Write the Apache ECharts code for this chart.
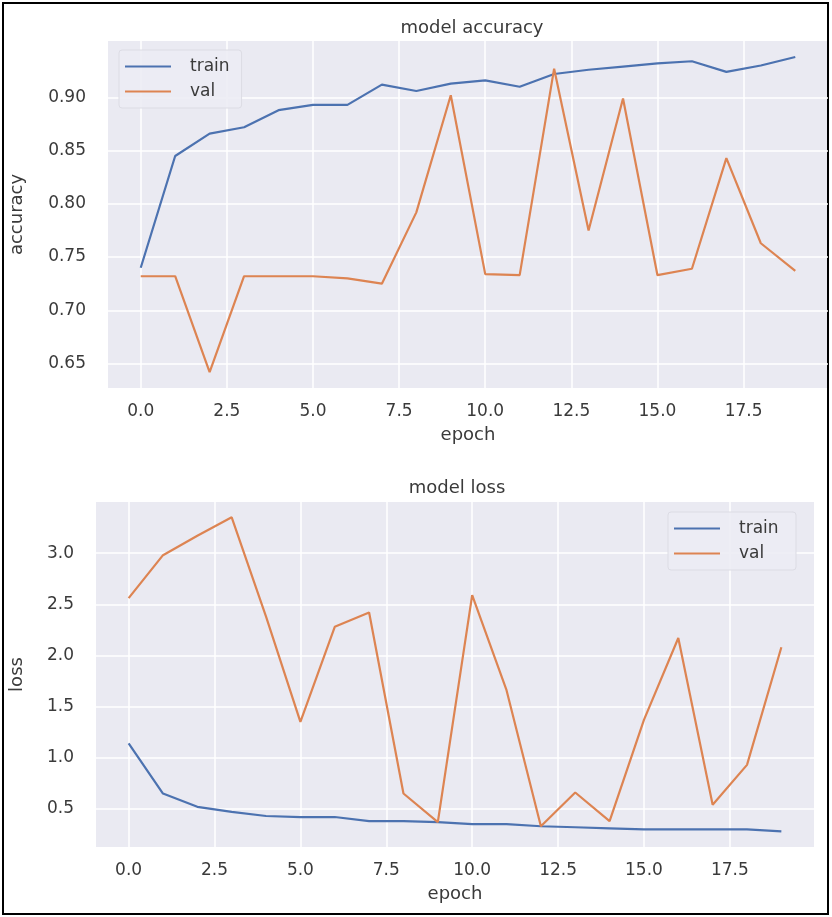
<!DOCTYPE html>
<html>
<head>
<meta charset="utf-8">
<script src="https://cdn.jsdelivr.net/npm/echarts@6/dist/echarts.min.js"></script>
<style>
  html, body { margin: 0; padding: 0; background: #fff; }
  #chart { width: 832px; height: 917px; }
</style>
</head>
<body>
<div id="chart"></div>
<script>
var epochs = [0, 1, 2, 3, 4, 5, 6, 7, 8, 9, 10, 11, 12, 13, 14, 15, 16, 17, 18, 19];

var accTrain = [0.740, 0.845, 0.866, 0.872, 0.888, 0.893, 0.893, 0.912, 0.906, 0.913,
                0.916, 0.910, 0.922, 0.926, 0.929, 0.932, 0.934, 0.924, 0.930, 0.938];
var accVal   = [0.732, 0.732, 0.642, 0.732, 0.732, 0.732, 0.730, 0.725, 0.792, 0.902,
                0.734, 0.733, 0.927, 0.775, 0.899, 0.733, 0.739, 0.843, 0.763, 0.737];

var lossTrain = [1.14, 0.65, 0.52, 0.47, 0.43, 0.42, 0.42, 0.38, 0.38, 0.37,
                 0.35, 0.35, 0.33, 0.32, 0.31, 0.30, 0.30, 0.30, 0.30, 0.28];
var lossVal   = [2.56, 2.98, 3.17, 3.35, 2.38, 1.35, 2.28, 2.42, 0.65, 0.37,
                 2.59, 1.66, 0.33, 0.66, 0.38, 1.37, 2.17, 0.54, 0.93, 2.08];

var xTicks = [0, 2.5, 5, 7.5, 10, 12.5, 15, 17.5];
var accTicks = [0.65, 0.70, 0.75, 0.80, 0.85, 0.90];
var lossTicks = [0.5, 1.0, 1.5, 2.0, 2.5, 3.0];

var BLUE = '#4c72b0';
var ORANGE = '#dd8452';
var FONT = 'DejaVu Sans';
var TXT = '#3a3a3a';

function pairs(ys) {
  return epochs.map(function (e, i) { return [e, ys[i]]; });
}

function xAxisFor(gi) {
  return {
    type: 'value', gridIndex: gi, min: -0.95, max: 19.95,
    name: 'epoch', nameLocation: 'middle', nameGap: 38,
    nameTextStyle: { fontFamily: FONT, fontSize: 18, color: TXT },
    axisLine: { show: false },
    axisTick: { show: false, customValues: xTicks },
    axisLabel: {
      customValues: xTicks, margin: 15,
      fontFamily: FONT, fontSize: 17, color: TXT,
      formatter: function (v) { return v.toFixed(1); }
    },
    splitLine: { show: false }
  };
}

function yAxisFor(gi, min, max, ticks, digits, label, gap) {
  return {
    type: 'value', gridIndex: gi, min: min, max: max,
    name: label, nameLocation: 'middle', nameGap: gap, nameRotate: 90,
    nameTextStyle: { fontFamily: FONT, fontSize: 18, color: TXT },
    axisLine: { show: false },
    axisTick: { show: false, customValues: ticks },
    axisLabel: {
      customValues: ticks, margin: 22,
      fontFamily: FONT, fontSize: 17, color: TXT,
      formatter: function (v) { return v.toFixed(digits); }
    },
    splitLine: { show: false }
  };
}

// white grid lines at the tick values, kept under the curves
function gridSeries(gi, yTicks) {
  var lines = xTicks.map(function (v) { return { xAxis: v }; })
    .concat(yTicks.map(function (v) { return { yAxis: v }; }));
  return {
    name: 'grid' + gi, type: 'line', xAxisIndex: gi, yAxisIndex: gi,
    data: [], z: 1, silent: true,
    markLine: {
      z: 1, silent: true, symbol: 'none', animation: false,
      label: { show: false },
      lineStyle: { color: '#ffffff', width: 1.5, type: 'solid' },
      data: lines
    }
  };
}

function lineSeries(name, data, color, gi) {
  return {
    name: name, type: 'line', xAxisIndex: gi, yAxisIndex: gi, z: 3,
    data: pairs(data), symbol: 'none', silent: true,
    lineStyle: { color: color, width: 2.2 }, itemStyle: { color: color }
  };
}

var legendBase = {
  orient: 'vertical', icon: 'rect', itemWidth: 46, itemHeight: 2, itemGap: 8,
  padding: [8, 12, 8, 6], selectedMode: false, z: 6,
  backgroundColor: 'rgba(236,236,244,0.9)',
  borderColor: '#dcdce4', borderWidth: 1, borderRadius: 3,
  textStyle: { fontFamily: FONT, fontSize: 17, color: TXT, padding: [0, 0, 0, 14] }
};

var chart = echarts.init(document.getElementById('chart'));

var option = {
  backgroundColor: '#ffffff',
  animation: false,
  title: [
    { text: 'model accuracy', left: 467, top: 14, textAlign: 'center',
      textStyle: { fontFamily: FONT, fontSize: 18, fontWeight: 'normal', color: TXT } },
    { text: 'model loss', left: 452, top: 474, textAlign: 'center',
      textStyle: { fontFamily: FONT, fontSize: 18, fontWeight: 'normal', color: TXT } }
  ],
  legend: [
    Object.assign({}, legendBase, { data: ['train', 'val'], left: 119, top: 50 }),
    Object.assign({}, legendBase, { data: ['train ', 'val '], left: 668, top: 512 })
  ],
  grid: [
    { left: 105, top: 41, width: 723, height: 347, show: true, backgroundColor: '#eaeaf2', borderWidth: 0 },
    { left: 91, top: 502, width: 723, height: 345, show: true, backgroundColor: '#eaeaf2', borderWidth: 0 }
  ],
  xAxis: [xAxisFor(0), xAxisFor(1)],
  yAxis: [
    yAxisFor(0, 0.627, 0.953, accTicks, 2, 'accuracy', 82),
    yAxisFor(1, 0.127, 3.50, lossTicks, 1, 'loss', 70)
  ],
  series: [
    gridSeries(0, accTicks),
    gridSeries(1, lossTicks),
    lineSeries('train', accTrain, BLUE, 0),
    lineSeries('val', accVal, ORANGE, 0),
    lineSeries('train ', lossTrain, BLUE, 1),
    lineSeries('val ', lossVal, ORANGE, 1)
  ],
  graphic: [
    { type: 'rect', shape: { x: 3, y: 3, width: 825, height: 911 },
      style: { fill: 'none', stroke: '#000000', lineWidth: 2 }, silent: true }
  ]
};

chart.setOption(option);
</script>
</body>
</html>
